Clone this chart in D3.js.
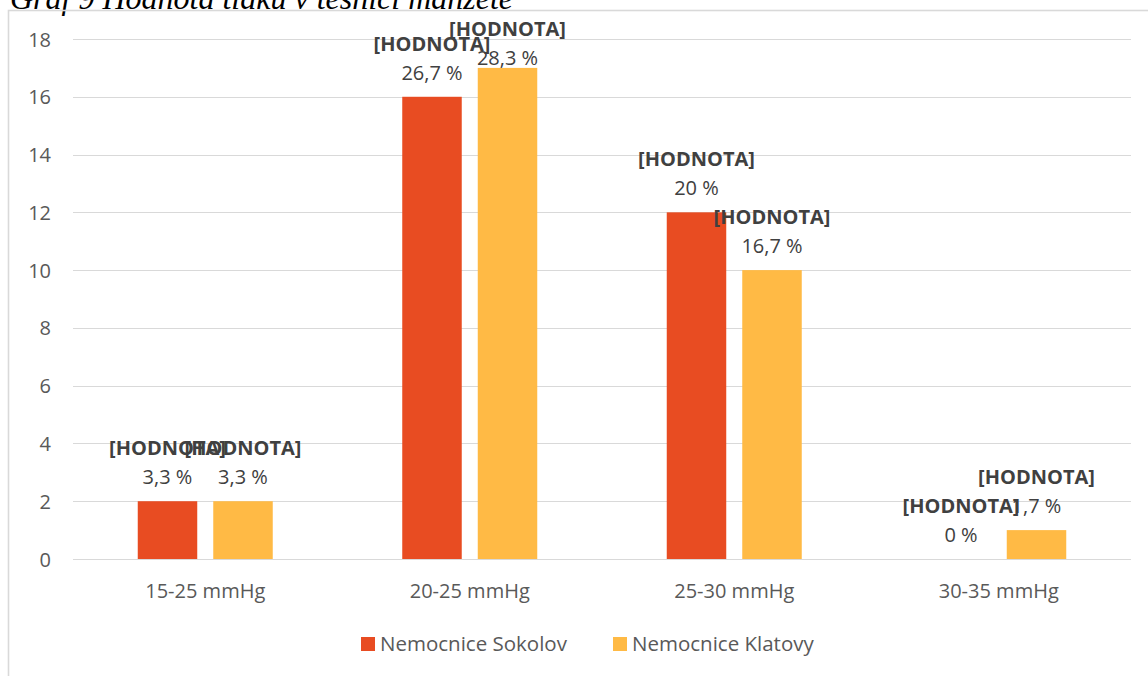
<!DOCTYPE html>
<html>
<head>
<meta charset="utf-8">
<script src="https://cdn.jsdelivr.net/npm/d3@7"></script>
<style>
  html, body { margin: 0; padding: 0; background: #fff; overflow: hidden; }
  svg { display: block; }
</style>
</head>
<body>
<svg id="chart" width="1148" height="676"></svg>
<script>
// Pressure ranges on the x axis
const categories = ["15-25 mmHg", "20-25 mmHg", "25-30 mmHg", "30-35 mmHg"];
// Hospital series
const seriesNames = ["Nemocnice Sokolov", "Nemocnice Klatovy"];
// Patient counts per range
const sokolovValues = [2, 16, 12, 0];
const klatovyValues = [2, 17, 10, 1];
// Patients per hospital, used for the percentage labels
const totalPatients = 60;
// Y axis ticks
const yTicks = [0, 2, 4, 6, 8, 10, 12, 14, 16, 18];
const labelTag = "[HODNOTA]";
const titleText = "Graf 9 Hodnota tlaku v těsnicí manžetě";

const colors = ["#E84C22", "#FFBA45"];
const font = "'Open Sans', 'Noto Sans', sans-serif";

const svg = d3.select("#chart");

// Caption (partly above the page edge)
svg.append("text")
  .attr("x", 10).attr("y", 9)
  .attr("font-family", "'Liberation Serif', 'Times New Roman', serif")
  .attr("font-style", "italic")
  .attr("font-size", 32)
  .attr("fill", "#000")
  .text(titleText);

// Chart frame
svg.append("rect")
  .attr("x", 8.5).attr("y", 10.5)
  .attr("width", 1200).attr("height", 700)
  .attr("fill", "none")
  .attr("stroke", "#d9d9d9")
  .attr("stroke-width", 1.6);

const plot = { left: 73, right: 1131, top: 39, bottom: 559 };

const y = d3.scaleLinear().domain([0, 18]).range([plot.bottom, plot.top]);
const x0 = d3.scaleBand().domain(categories).range([plot.left, plot.right]);
const x1 = d3.scaleBand().domain(seriesNames).range([-67.5, 67.5]).paddingInner(0.212);

// Gridlines
svg.append("g")
  .selectAll("line")
  .data(yTicks)
  .join("line")
  .attr("x1", plot.left).attr("x2", plot.right)
  .attr("y1", d => Math.round(y(d)) + 0.5)
  .attr("y2", d => Math.round(y(d)) + 0.5)
  .attr("stroke", "#d9d9d9")
  .attr("stroke-width", 1);

// Y axis labels
const yAxis = d3.axisLeft(y).tickValues(yTicks).tickSize(0).tickPadding(0);
const yg = svg.append("g").attr("transform", "translate(51,0)").call(yAxis);
yg.select(".domain").remove();
yg.selectAll("text")
  .attr("font-family", font)
  .attr("font-size", 20)
  .attr("fill", "#595959")
  .attr("dy", "0.35em");

// X axis labels
const xAxis = d3.axisBottom(x0).tickSize(0).tickPadding(0);
const xg = svg.append("g").attr("transform", `translate(0,${plot.bottom + 32})`).call(xAxis);
xg.select(".domain").remove();
xg.selectAll("text")
  .attr("font-family", font)
  .attr("font-size", 20)
  .attr("fill", "#595959")
  .attr("dy", "0.35em");

const seriesData = [sokolovValues, klatovyValues];
const rows = [];
seriesNames.forEach((s, si) => {
  categories.forEach((c, ci) => {
    rows.push({ series: s, si, category: c, value: seriesData[si][ci] });
  });
});

// Bars
svg.append("g")
  .selectAll("rect")
  .data(rows)
  .join("rect")
  .attr("x", d => x0(d.category) + x0.bandwidth() / 2 + x1(d.series))
  .attr("width", x1.bandwidth())
  .attr("y", d => y(d.value))
  .attr("height", d => y(0) - y(d.value))
  .attr("fill", d => colors[d.si]);

// Data labels: tag line and percentage line, kept inside the chart area
const fmt = v => {
  const p = v / totalPatients * 100;
  let s = d3.format(".1f")(p);
  if (s.endsWith(".0")) s = s.slice(0, -2);
  return s.replace(".", ",") + " %";
};
const labels = svg.append("g");
rows.forEach(d => {
  const cx = x0(d.category) + x0.bandwidth() / 2 + x1(d.series) + x1.bandwidth() / 2;
  const tagY = Math.max(y(d.value) - 53, 29);
  labels.append("text")
    .attr("x", cx).attr("y", tagY)
    .attr("dy", "0.35em")
    .attr("text-anchor", "middle")
    .attr("font-family", font)
    .attr("font-size", 20)
    .attr("font-weight", "bold")
    .attr("fill", "#404040")
    .text(labelTag);
  labels.append("text")
    .attr("x", cx).attr("y", tagY + 29)
    .attr("dy", "0.35em")
    .attr("text-anchor", "middle")
    .attr("font-family", font)
    .attr("font-size", 20)
    .attr("fill", "#404040")
    .text(fmt(d.value));
});

// Legend
const legendX = [361, 613];
const legend = svg.append("g");
seriesNames.forEach((s, i) => {
  legend.append("rect")
    .attr("x", legendX[i]).attr("y", 637)
    .attr("width", 14).attr("height", 14)
    .attr("fill", colors[i]);
  legend.append("text")
    .attr("x", legendX[i] + 19).attr("y", 644)
    .attr("dy", "0.35em")
    .attr("font-family", font)
    .attr("font-size", 20.5)
    .attr("fill", "#595959")
    .text(s);
});
</script>
</body>
</html>
